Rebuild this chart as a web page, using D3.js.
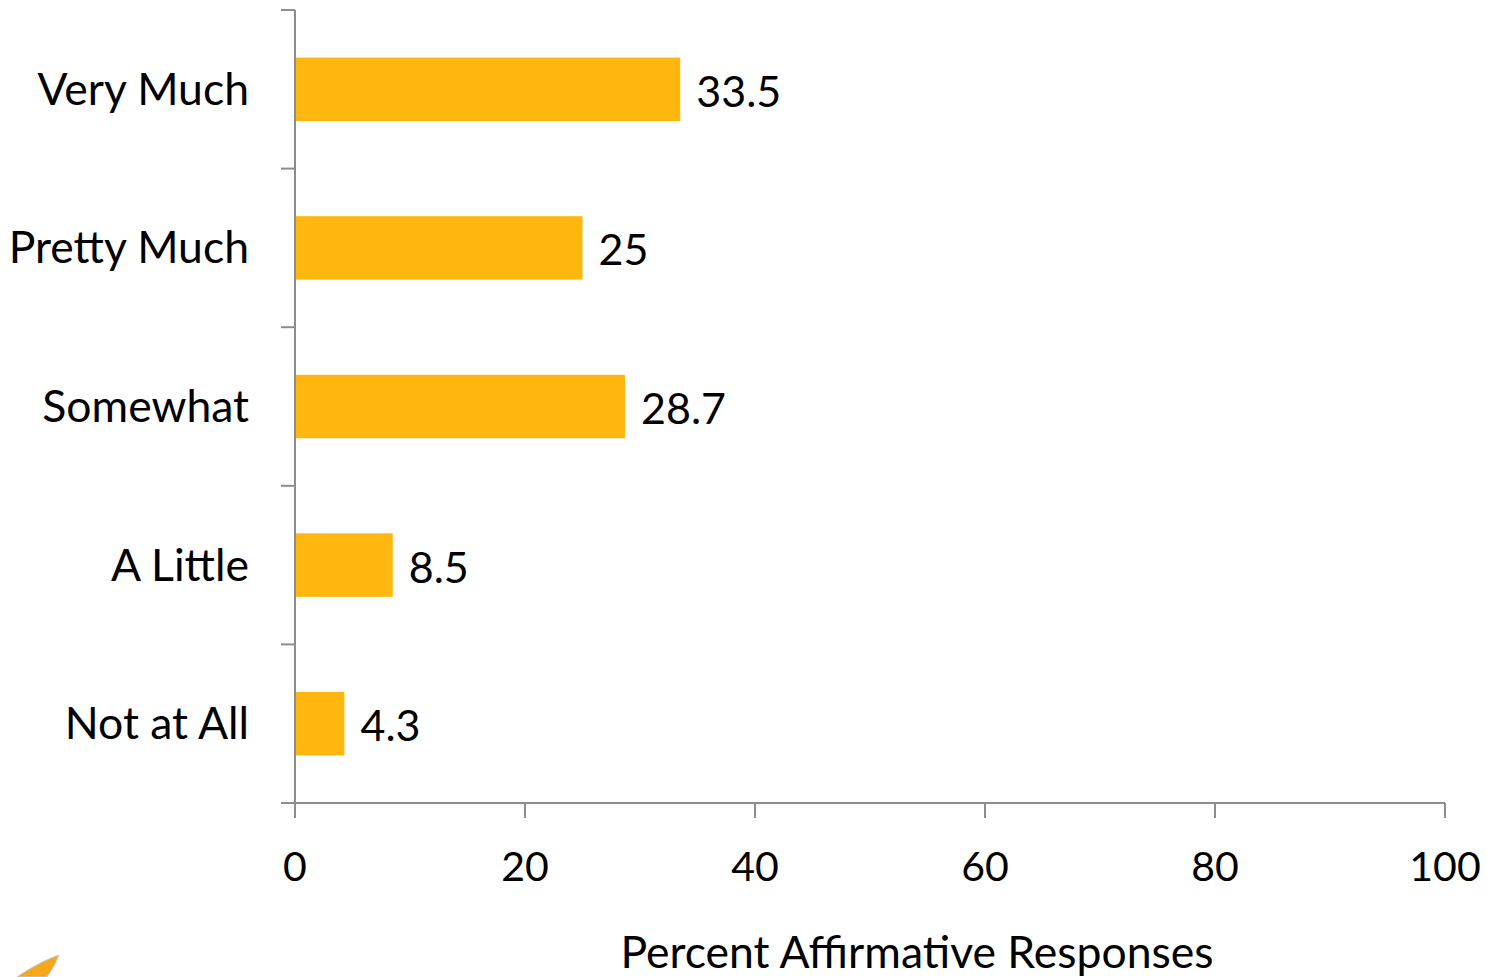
<!DOCTYPE html>
<html><head><meta charset="utf-8">
<script src="https://cdn.jsdelivr.net/npm/d3@7"></script>
<style>body{margin:0;background:#fff}svg{display:block}text{font-family:Lato,"Open Sans",sans-serif;fill:#000}</style>
</head><body>
<script>
const categories = ["Very Much","Pretty Much","Somewhat","A Little","Not at All"];
const values = [33.5,25,28.7,8.5,4.3];
const valueLabels = ["33.5","25","28.7","8.5","4.3"];
const xTicks = [0,20,40,60,80,100];
const xTitle = "Percent Affirmative Responses";

const W=1487,H=977;
const svg=d3.select("body").append("svg").attr("width",W).attr("height",H);
const x=d3.scaleLinear().domain([0,100]).range([295,1445]);
const y=d3.scaleBand().domain(categories).range([10,803]).padding(0);
const step=y.step();
const axisColor="#8c8c8c";

// bars
svg.selectAll("rect.bar").data(categories).enter().append("rect")
  .attr("x",x(0)).attr("y",c=>y(c)+step*0.3)
  .attr("width",(c,i)=>x(values[i])-x(0)).attr("height",step*0.4)
  .attr("fill","#FDB70F");

// y axis
const ya=svg.append("g");
ya.append("line").attr("x1",295).attr("x2",295).attr("y1",10).attr("y2",803).attr("stroke",axisColor).attr("stroke-width",2);
const yb=[...categories.map(c=>y(c)),803];
ya.selectAll("line.t").data(yb).enter().append("line").attr("x1",281).attr("x2",295).attr("y1",d=>d).attr("y2",d=>d).attr("stroke",axisColor).attr("stroke-width",2);
ya.selectAll("text").data(categories).enter().append("text")
  .attr("x",249).attr("y",c=>y(c)+step/2-2).attr("text-anchor","end").attr("dominant-baseline","central")
  .style("font-size","44.5px").text(c=>c);

// x axis
const xa=svg.append("g");
xa.append("line").attr("x1",281).attr("x2",1445).attr("y1",803).attr("y2",803).attr("stroke",axisColor).attr("stroke-width",2);
xa.selectAll("line.t").data(xTicks).enter().append("line").attr("x1",d=>x(d)).attr("x2",d=>x(d)).attr("y1",803).attr("y2",818).attr("stroke",axisColor).attr("stroke-width",2);
xa.selectAll("text").data(xTicks).enter().append("text")
  .attr("x",d=>x(d)).attr("y",865).attr("text-anchor","middle").attr("dominant-baseline","central")
  .style("font-size","41px").text(d=>d);

// value labels
svg.selectAll("text.val").data(categories).enter().append("text")
  .attr("x",(c,i)=>x(values[i])+16).attr("y",c=>y(c)+step/2+1).attr("dominant-baseline","central")
  .style("font-size","43px").text((c,i)=>valueLabels[i]);

// title
svg.append("text").attr("x",917).attr("y",950).attr("text-anchor","middle").attr("dominant-baseline","central")
  .style("font-size","44.5px").text(xTitle);

// logo swoosh
svg.append("path").attr("d","M17,977 C30,968 45,960 59,955 C56,962 52,970 47,977 Z")
  .attr("fill","#F5A81C").attr("stroke","#c8c8c8").attr("stroke-width",1);
</script>
</body></html>
